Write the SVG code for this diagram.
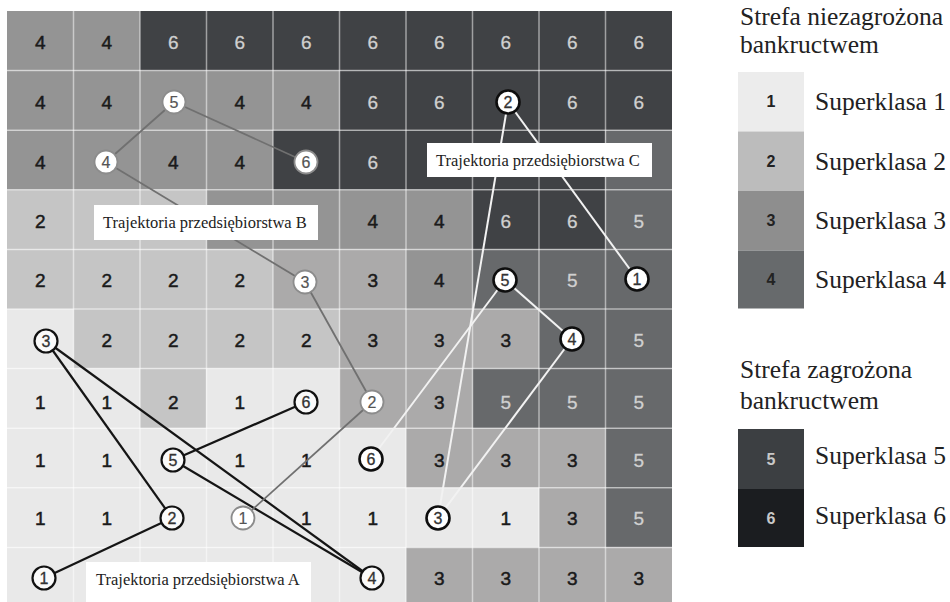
<svg xmlns="http://www.w3.org/2000/svg" width="950" height="602" viewBox="0 0 950 602">
<style>
.v1{fill:#e9e9e9}.v2{fill:#c5c5c5}.v3{fill:#abaaaa}.v4{fill:#949494}.v5{fill:#67696b}.v6{fill:#404245}
.gl{stroke:#ffffff;stroke-opacity:0.5;stroke-width:1.5}
.d{font-family:"Liberation Sans",Arial,sans-serif;font-size:19px;text-anchor:middle;fill:#1a1a1a;stroke:#1a1a1a;stroke-width:0.5}
.dl{font-family:"Liberation Sans",Arial,sans-serif;font-size:19px;text-anchor:middle;fill:#d0d0d0;stroke:#d0d0d0;stroke-width:0.3}
.lab{fill:#ffffff}
.lt{font-family:"Liberation Serif","Times New Roman",serif;font-size:16.5px;fill:#222}
.leg{font-family:"Liberation Serif","Times New Roman",serif;font-size:25.5px;fill:#222}
.ln{font-family:"Liberation Sans",Arial,sans-serif;font-size:16px;font-weight:bold;text-anchor:middle}
.ca{fill:#fafafa;stroke:#111;stroke-width:2.2}
.cb{fill:#ffffff;stroke:#8c8c8c;stroke-width:1.8}
.cc{fill:#ffffff;stroke:#0e0e0e;stroke-width:2.6}
.ct{font-family:"Liberation Sans",Arial,sans-serif;font-size:16px;text-anchor:middle;fill:#333;stroke:#333;stroke-width:0.3}
.ctb{font-family:"Liberation Sans",Arial,sans-serif;font-size:16px;text-anchor:middle;fill:#555;stroke:#555;stroke-width:0.2}
.la{stroke:#151515;stroke-width:2.2;fill:none}
.lb{stroke:#707070;stroke-width:1.8;fill:none}
.lc{stroke:#f2f2f2;stroke-width:2;fill:none}
</style>
<rect width="950" height="602" fill="#ffffff"/>
<g id="grid">
<rect class="v4" x="7" y="11" width="133" height="59.6"/><rect class="v6" x="140" y="11" width="532" height="59.6"/>
<rect class="v4" x="7" y="70.6" width="332.5" height="59.6"/><rect class="v6" x="339.5" y="70.6" width="332.5" height="59.6"/>
<rect class="v4" x="7" y="130.2" width="266" height="59.6"/><rect class="v6" x="273" y="130.2" width="332.5" height="59.6"/><rect class="v5" x="605.5" y="130.2" width="66.5" height="59.6"/>
<rect class="v2" x="7" y="189.8" width="199.5" height="59.6"/><rect class="v4" x="206.5" y="189.8" width="266" height="59.6"/><rect class="v6" x="472.5" y="189.8" width="133" height="59.6"/><rect class="v5" x="605.5" y="189.8" width="66.5" height="59.6"/>
<rect class="v2" x="7" y="249.4" width="266" height="59.6"/><rect class="v3" x="273" y="249.4" width="133" height="59.6"/><rect class="v4" x="406" y="249.4" width="66.5" height="59.6"/><rect class="v5" x="472.5" y="249.4" width="199.5" height="59.6"/>
<rect class="v1" x="7" y="309" width="66.5" height="59.6"/><rect class="v2" x="73.5" y="309" width="266" height="59.6"/><rect class="v3" x="339.5" y="309" width="199.5" height="59.6"/><rect class="v5" x="539" y="309" width="133" height="59.6"/>
<rect class="v1" x="7" y="368.6" width="133" height="59.6"/><rect class="v2" x="140" y="368.6" width="66.5" height="59.6"/><rect class="v1" x="206.5" y="368.6" width="133" height="59.6"/><rect class="v3" x="339.5" y="368.6" width="133" height="59.6"/><rect class="v5" x="472.5" y="368.6" width="199.5" height="59.6"/>
<rect class="v1" x="7" y="428.2" width="399" height="59.6"/><rect class="v3" x="406" y="428.2" width="199.5" height="59.6"/><rect class="v5" x="605.5" y="428.2" width="66.5" height="59.6"/>
<rect class="v1" x="7" y="487.8" width="532" height="59.6"/><rect class="v3" x="539" y="487.8" width="66.5" height="59.6"/><rect class="v5" x="605.5" y="487.8" width="66.5" height="59.6"/>
<rect class="v1" x="7" y="547.4" width="399" height="59.6"/><rect class="v3" x="406" y="547.4" width="266" height="59.6"/>
<g class="gl">
<line x1="73.5" y1="11" x2="73.5" y2="602"/><line x1="140" y1="11" x2="140" y2="602"/><line x1="206.5" y1="11" x2="206.5" y2="602"/><line x1="273" y1="11" x2="273" y2="602"/><line x1="339.5" y1="11" x2="339.5" y2="602"/><line x1="406" y1="11" x2="406" y2="602"/><line x1="472.5" y1="11" x2="472.5" y2="602"/><line x1="539" y1="11" x2="539" y2="602"/><line x1="605.5" y1="11" x2="605.5" y2="602"/>
<line x1="7" y1="70.6" x2="672" y2="70.6"/><line x1="7" y1="130.2" x2="672" y2="130.2"/><line x1="7" y1="189.8" x2="672" y2="189.8"/><line x1="7" y1="249.4" x2="672" y2="249.4"/><line x1="7" y1="309" x2="672" y2="309"/><line x1="7" y1="368.6" x2="672" y2="368.6"/><line x1="7" y1="428.2" x2="672" y2="428.2"/><line x1="7" y1="487.8" x2="672" y2="487.8"/><line x1="7" y1="547.4" x2="672" y2="547.4"/>
</g>
<g class="d">
<text x="40.25" y="49">4</text><text x="106.75" y="49">4</text>
<text x="40.25" y="109">4</text><text x="106.75" y="109">4</text><text x="239.75" y="109">4</text><text x="306.25" y="109">4</text>
<text x="40.25" y="169">4</text><text x="173.25" y="169">4</text><text x="239.75" y="169">4</text>
<text x="40.25" y="228">2</text><text x="372.75" y="228">4</text><text x="439.25" y="228">4</text>
<text x="40.25" y="287">2</text><text x="106.75" y="287">2</text><text x="173.25" y="287">2</text><text x="239.75" y="287">2</text><text x="372.75" y="287">3</text><text x="439.25" y="287">4</text>
<text x="106.75" y="347">2</text><text x="173.25" y="347">2</text><text x="239.75" y="347">2</text><text x="306.25" y="347">2</text><text x="372.75" y="347">3</text><text x="439.25" y="347">3</text><text x="505.75" y="347">3</text>
<text x="40.25" y="409">1</text><text x="106.75" y="409">1</text><text x="173.25" y="409">2</text><text x="239.75" y="409">1</text><text x="439.25" y="409">3</text>
<text x="40.25" y="467">1</text><text x="106.75" y="467">1</text><text x="239.75" y="467">1</text><text x="306.25" y="467">1</text><text x="439.25" y="467">3</text><text x="505.75" y="467">3</text><text x="572.25" y="467">3</text>
<text x="40.25" y="525">1</text><text x="106.75" y="525">1</text><text x="306.25" y="525">1</text><text x="372.75" y="525">1</text><text x="505.75" y="525">1</text><text x="572.25" y="525">3</text>
<text x="439.25" y="585">3</text><text x="505.75" y="585">3</text><text x="572.25" y="585">3</text><text x="638.75" y="585">3</text>
</g>
<g class="dl">
<text x="173.25" y="49">6</text><text x="239.75" y="49">6</text><text x="306.25" y="49">6</text><text x="372.75" y="49">6</text><text x="439.25" y="49">6</text><text x="505.75" y="49">6</text><text x="572.25" y="49">6</text><text x="638.75" y="49">6</text>
<text x="372.75" y="109">6</text><text x="439.25" y="109">6</text><text x="572.25" y="109">6</text><text x="638.75" y="109">6</text>
<text x="372.75" y="169">6</text>
<text x="505.75" y="228">6</text><text x="572.25" y="228">6</text><text x="638.75" y="228">5</text>
<text x="572.25" y="287">5</text>
<text x="638.75" y="347">5</text>
<text x="505.75" y="409">5</text><text x="572.25" y="409">5</text><text x="638.75" y="409">5</text>
<text x="638.75" y="467">5</text>
<text x="638.75" y="525">5</text>
</g>
</g>
<g id="connectors">
<g class="la">
<line x1="44" y1="578" x2="172" y2="518"/><line x1="172" y1="518" x2="46" y2="341"/><line x1="46" y1="341" x2="372" y2="578"/><line x1="372" y1="578" x2="173" y2="460"/><line x1="173" y1="460" x2="306" y2="402"/>
</g>
<g class="lb">
<line x1="243" y1="518" x2="372" y2="402"/><line x1="372" y1="402" x2="305" y2="282"/><line x1="305" y1="282" x2="106" y2="162"/><line x1="106" y1="162" x2="174" y2="102"/><line x1="174" y1="102" x2="306" y2="162"/>
</g>
<g class="lc">
<line x1="637" y1="279" x2="508" y2="102"/><line x1="508" y1="102" x2="438" y2="518"/><line x1="438" y1="518" x2="572" y2="339"/><line x1="572" y1="339" x2="505" y2="280"/><line x1="505" y1="280" x2="371" y2="459"/>
</g>
</g>
<g id="label-c"><rect class="lab" x="427" y="143" width="225" height="34"/><text class="lt" x="436" y="166">Trajektoria przedsiębiorstwa C</text></g>
<g id="label-b"><rect class="lab" x="94" y="205" width="224" height="35"/><text class="lt" x="103" y="228">Trajektoria przedsiębiorstwa B</text></g>
<g id="label-a"><rect class="lab" x="86" y="562" width="225" height="40"/><text class="lt" x="96" y="585">Trajektoria przedsiębiorstwa A</text></g>
<g id="a1"><circle class="ca" cx="44" cy="578" r="11.5"/><text class="ct" x="44" y="584">1</text></g>
<g id="a2"><circle class="ca" cx="172" cy="518" r="11.5"/><text class="ct" x="172" y="524">2</text></g>
<g id="a3"><circle class="ca" cx="46" cy="341" r="11.5"/><text class="ct" x="46" y="347">3</text></g>
<g id="a4"><circle class="ca" cx="372" cy="578" r="11.5"/><text class="ct" x="372" y="584">4</text></g>
<g id="a5"><circle class="ca" cx="173" cy="460" r="11.5"/><text class="ct" x="173" y="466">5</text></g>
<g id="a6"><circle class="ca" cx="306" cy="402" r="11.5"/><text class="ct" x="306" y="408">6</text></g>
<g id="b1"><circle class="cb" cx="243" cy="518" r="11.5"/><text class="ctb" x="243" y="524">1</text></g>
<g id="b2"><circle class="cb" cx="372" cy="402" r="11.5"/><text class="ctb" x="372" y="408">2</text></g>
<g id="b3"><circle class="cb" cx="305" cy="282" r="11.5"/><text class="ctb" x="305" y="288">3</text></g>
<g id="b4"><circle class="cb" cx="106" cy="162" r="11.5"/><text class="ctb" x="106" y="168">4</text></g>
<g id="b5"><circle class="cb" cx="174" cy="102" r="11.5"/><text class="ctb" x="174" y="108">5</text></g>
<g id="b6"><circle class="cb" cx="306" cy="162" r="11.5"/><text class="ctb" x="306" y="168">6</text></g>
<g id="c1"><circle class="cc" cx="637" cy="279" r="11.5"/><text class="ct" x="637" y="285">1</text></g>
<g id="c2"><circle class="cc" cx="508" cy="102" r="11.5"/><text class="ct" x="508" y="108">2</text></g>
<g id="c3"><circle class="cc" cx="438" cy="518" r="11.5"/><text class="ct" x="438" y="524">3</text></g>
<g id="c4"><circle class="cc" cx="572" cy="339" r="11.5"/><text class="ct" x="572" y="345">4</text></g>
<g id="c5"><circle class="cc" cx="505" cy="280" r="11.5"/><text class="ct" x="505" y="286">5</text></g>
<g id="c6"><circle class="cc" cx="371" cy="459" r="11.5"/><text class="ct" x="371" y="465">6</text></g>
<g id="legend">
<text class="leg" x="740" y="25">Strefa niezagrożona</text>
<text class="leg" x="740" y="53">bankructwem</text>
<rect x="738" y="72" width="66" height="59.5" fill="#ececec"/>
<rect x="738" y="131.5" width="66" height="59.5" fill="#bcbcbc"/>
<rect x="738" y="191" width="66" height="59.5" fill="#8e8e8e"/>
<rect x="738" y="250.5" width="66" height="58" fill="#676a6c"/>
<text class="ln" x="771" y="107" fill="#222">1</text>
<text class="ln" x="771" y="167" fill="#222">2</text>
<text class="ln" x="771" y="226" fill="#222">3</text>
<text class="ln" x="771" y="285" fill="#222">4</text>
<text class="leg" x="815" y="110">Superklasa 1</text>
<text class="leg" x="815" y="170">Superklasa 2</text>
<text class="leg" x="815" y="229">Superklasa 3</text>
<text class="leg" x="815" y="288">Superklasa 4</text>
<text class="leg" x="740" y="378">Strefa zagrożona</text>
<text class="leg" x="740" y="409">bankructwem</text>
<rect x="738" y="429" width="66" height="60" fill="#3c3f42"/>
<rect x="738" y="489" width="66" height="58" fill="#1b1d20"/>
<text class="ln" x="771" y="465" fill="#c8c8c8">5</text>
<text class="ln" x="771" y="524" fill="#c8c8c8">6</text>
<text class="leg" x="815" y="464">Superklasa 5</text>
<text class="leg" x="815" y="524">Superklasa 6</text>
</g>
</svg>
